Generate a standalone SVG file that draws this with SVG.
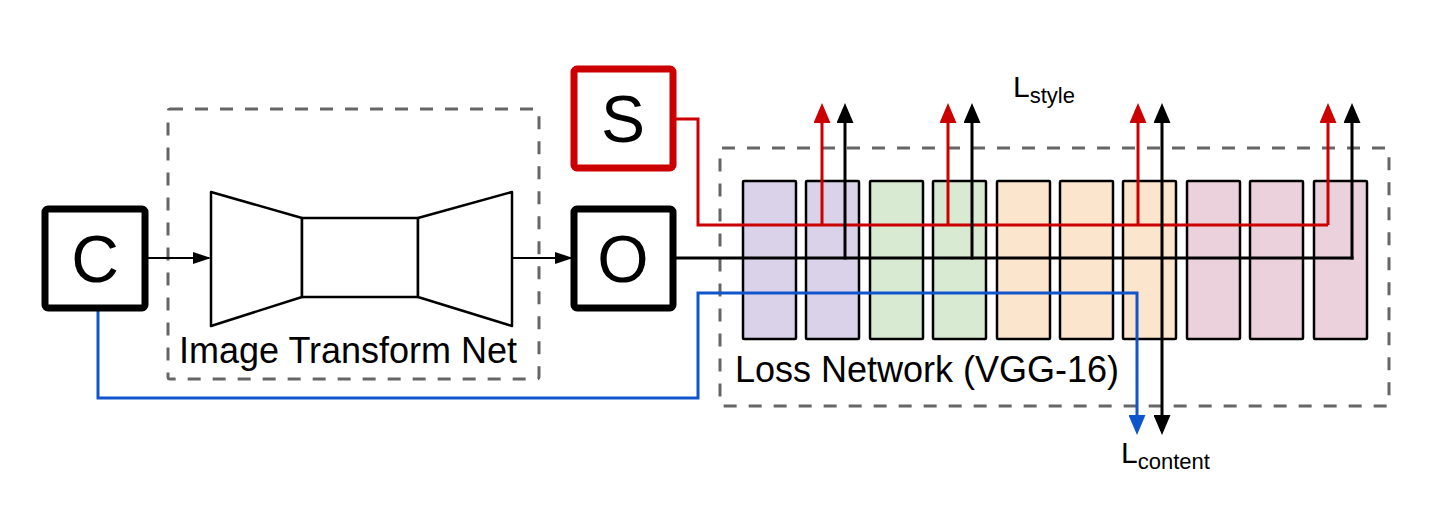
<svg xmlns="http://www.w3.org/2000/svg" width="1434" height="514" viewBox="0 0 1434 514">
<defs>
<style>
.dash{fill:none;stroke:#666;stroke-width:3;stroke-dasharray:13 12}
.blk{stroke:#000;stroke-width:2.5}
.p{fill:#d9d2e9}.g{fill:#d9ead3}.o{fill:#fce5cd}.k{fill:#ead1dc}
.shape{fill:#fff;stroke:#000;stroke-width:2.5;stroke-linejoin:round}
.node{fill:#fff;stroke:#000;stroke-width:7}
.node.rednode{stroke:#cc0000}
.big{font-family:"Liberation Sans",Arial,sans-serif;font-size:66px;text-anchor:middle;fill:#000}
.lbl{font-family:"Liberation Sans",Arial,sans-serif;font-size:36px;fill:#000}
.L{font-family:"Liberation Sans",Arial,sans-serif;font-size:30px;fill:#000}
.sub{font-size:22px}
.red{stroke:#cc0000;stroke-width:3;fill:none}
.blk3{stroke:#000;stroke-width:3;fill:none}
.blue{stroke:#1155cc;stroke-width:3;fill:none}
.thin{stroke:#000;stroke-width:2;fill:none}
</style>
<marker id="ar" markerWidth="20" markerHeight="17" viewBox="0 0 20 17" refX="16" refY="8.5" orient="auto-start-reverse" markerUnits="userSpaceOnUse"><path d="M0,0 L20,8.5 L0,17 Z" fill="#cc0000"/></marker>
<marker id="ab" markerWidth="20" markerHeight="17" viewBox="0 0 20 17" refX="16" refY="8.5" orient="auto-start-reverse" markerUnits="userSpaceOnUse"><path d="M0,0 L20,8.5 L0,17 Z" fill="#000"/></marker>
<marker id="au" markerWidth="20" markerHeight="17" viewBox="0 0 20 17" refX="16" refY="8.5" orient="auto-start-reverse" markerUnits="userSpaceOnUse"><path d="M0,0 L20,8.5 L0,17 Z" fill="#1155cc"/></marker>
<marker id="as" markerWidth="18" markerHeight="12" viewBox="0 0 18 12" refX="16" refY="6" orient="auto" markerUnits="userSpaceOnUse"><path d="M0,0 L18,6 L0,12 Z" fill="#000"/></marker>
</defs>
<rect width="1434" height="514" fill="#fff"/>

<g id="transform-net">
<rect class="dash" x="168" y="109" width="371" height="270" rx="2"/>
<polygon class="shape" points="211,192 302,218 302,297 211,326"/>
<rect class="shape" x="302" y="218" width="116" height="79"/>
<polygon class="shape" points="418,218 512,192 512,326 418,297"/>
<text class="lbl" x="179" y="363">Image Transform Net</text>
</g>

<g id="loss-network">
<rect class="dash" x="720" y="148" width="669" height="258" rx="2"/>
<rect class="blk p" x="743" y="181" width="53" height="158" rx="1"/>
<rect class="blk p" x="806" y="181" width="53" height="158" rx="1"/>
<rect class="blk g" x="870" y="181" width="53" height="158" rx="1"/>
<rect class="blk g" x="933" y="181" width="53" height="158" rx="1"/>
<rect class="blk o" x="997" y="181" width="53" height="158" rx="1"/>
<rect class="blk o" x="1060" y="181" width="53" height="158" rx="1"/>
<rect class="blk o" x="1123" y="181" width="53" height="158" rx="1"/>
<rect class="blk k" x="1187" y="181" width="53" height="158" rx="1"/>
<rect class="blk k" x="1250" y="181" width="53" height="158" rx="1"/>
<rect class="blk k" x="1314" y="181" width="53" height="158" rx="1"/>
<text class="lbl" x="735" y="382">Loss Network (VGG-16)</text>
</g>

<g id="connectors">
<line class="thin" x1="145" y1="258" x2="209" y2="258" marker-end="url(#as)"/>
<line class="thin" x1="512" y1="258" x2="571" y2="258" marker-end="url(#as)"/>
<polyline class="red" points="673,119 698,119 698,225 1328,225"/>
<line class="red" x1="822" y1="225" x2="822" y2="107" marker-end="url(#ar)"/>
<line class="red" x1="948" y1="225" x2="948" y2="107" marker-end="url(#ar)"/>
<line class="red" x1="1138" y1="225" x2="1138" y2="107" marker-end="url(#ar)"/>
<line class="red" x1="1328" y1="225" x2="1328" y2="107" marker-end="url(#ar)"/>
<line class="blk3" x1="674" y1="258" x2="1353.5" y2="258"/>
<line class="blk3" x1="845" y1="259.5" x2="845" y2="107" marker-end="url(#ab)"/>
<line class="blk3" x1="972" y1="259.5" x2="972" y2="107" marker-end="url(#ab)"/>
<line class="blk3" x1="1352" y1="259.5" x2="1352" y2="107" marker-end="url(#ab)"/>
<line class="blk3" x1="1162" y1="431" x2="1162" y2="107" marker-start="url(#ab)" marker-end="url(#ab)"/>
<polyline class="blue" points="98,308 98,398 698,398 698,293 1137,293 1137,431" marker-end="url(#au)"/>
</g>

<g id="node-C">
<rect class="node" x="45" y="209" width="100" height="99" rx="3"/>
<text class="big" x="95" y="282">C</text>
</g>
<g id="node-O">
<rect class="node" x="574" y="209" width="99" height="99" rx="3"/>
<text class="big" x="623" y="282">O</text>
</g>
<g id="node-S">
<rect class="node rednode" x="574" y="69" width="99" height="99" rx="3"/>
<text class="big" x="623" y="142">S</text>
</g>

<g id="label-style">
<text class="L" x="1013" y="97">L<tspan class="sub" dy="6">style</tspan></text>
</g>
<g id="label-content">
<text class="L" x="1121" y="463">L<tspan class="sub" dy="6">content</tspan></text>
</g>
</svg>
